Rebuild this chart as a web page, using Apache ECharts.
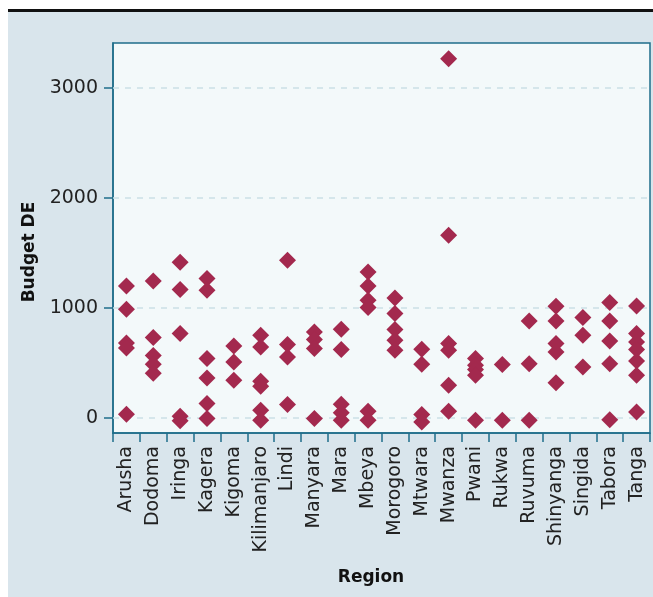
<!DOCTYPE html>
<html><head><meta charset="utf-8">
<script src="https://cdn.jsdelivr.net/npm/echarts@6/dist/echarts.min.js"></script>
<style>html,body{margin:0;padding:0;background:#fff}#c{width:653px;height:597px}</style>
</head><body><div id="c"></div>
<script>
const regions = ["Arusha","Dodoma","Iringa","Kagera","Kigoma","Kilimanjaro","Lindi","Manyara","Mara","Mbeya","Morogoro","Mtwara","Mwanza","Pwani","Rukwa","Ruvuma","Shinyanga","Singida","Tabora","Tanga"];
const budgetDE = [
  [1200, 988, 682, 636, 34],
  [1245, 731, 567, 488, 406],
  [1415, 1167, 767, 15, -25],
  [1267, 1161, 540, 364, 131, -5],
  [655, 509, 343],
  [752, 645, 334, 288, 70, -21],
  [1434, 667, 555, 122],
  [782, 713, 631, -5],
  [806, 622, 124, 49, -21],
  [1327, 1200, 1070, 1003, 61, -21],
  [1091, 949, 803, 706, 615],
  [624, 488, 31, -36],
  [3264, 1661, 676, 615, 297, 61],
  [540, 479, 440, 388, -21],
  [485, -21],
  [882, 494, -21],
  [1015, 882, 676, 600, 321],
  [912, 752, 464],
  [1049, 882, 700, 494, -15],
  [1018, 767, 691, 622, 518, 388, 55]
];
const yTicks = [0, 1000, 2000, 3000];

const points = [];
regions.forEach((r, i) => budgetDE[i].forEach(v => points.push([r, v])));

const FONT = "DejaVu Sans";
const chart = echarts.init(document.getElementById('c'));
chart.setOption({
  animation: false,
  backgroundColor: '#ffffff',
  graphic: [
    {type: 'rect', shape: {x: 8, y: 12, width: 645, height: 585}, style: {fill: '#d9e5ec'}, z: -10},
    {type: 'rect', shape: {x: 8, y: 9, width: 645, height: 3}, style: {fill: '#111111'}, z: -10},
    {type: 'text', x: 30, y: 252, rotation: Math.PI / 2, style: {text: 'Budget DE', fontFamily: FONT, fontWeight: 'bold', fontSize: 17, fill: '#111', align: 'center', verticalAlign: 'middle'}},
    {type: 'text', x: 371, y: 578, style: {text: 'Region', fontFamily: FONT, fontWeight: 'bold', fontSize: 17, fill: '#111', align: 'center', verticalAlign: 'middle'}}
  ],
  grid: {left: 113, right: 3, top: 43, bottom: 164, show: true, backgroundColor: '#f3f9fa', borderColor: '#1f6e8a', borderWidth: 1.5},
  xAxis: {
    type: 'category', data: regions, boundaryGap: true,
    axisLine: {show: true, onZero: false, lineStyle: {color: '#1f6e8a', width: 1.5}},
    axisTick: {show: true, length: 9, lineStyle: {color: '#1f6e8a', width: 1.5}},
    axisLabel: {rotate: 90, interval: 0, fontFamily: FONT, fontSize: 19, color: '#222', margin: 13},
    splitLine: {show: false}
  },
  yAxis: {
    type: 'value', min: -136, max: 3406,
    axisLine: {show: true, onZero: false, lineStyle: {color: '#1f6e8a', width: 1.5}},
    axisTick: {show: true, length: 9, customValues: yTicks, lineStyle: {color: '#1f6e8a', width: 1.5}},
    axisLabel: {customValues: yTicks, formatter: v => String(v), fontFamily: FONT, fontSize: 19, color: '#222', margin: 15},
    splitLine: {show: false}
  },
  series: [{
    type: 'scatter', data: points, symbol: 'diamond', symbolSize: [17, 17],
    itemStyle: {color: '#a3294e', opacity: 1},
    markLine: {
      silent: true, symbol: 'none', label: {show: false},
      lineStyle: {color: '#cbdfe6', type: [6, 6], width: 1.5},
      data: yTicks.map(v => ({yAxis: v})), z: 1
    }
  }]
});
</script></body></html>
